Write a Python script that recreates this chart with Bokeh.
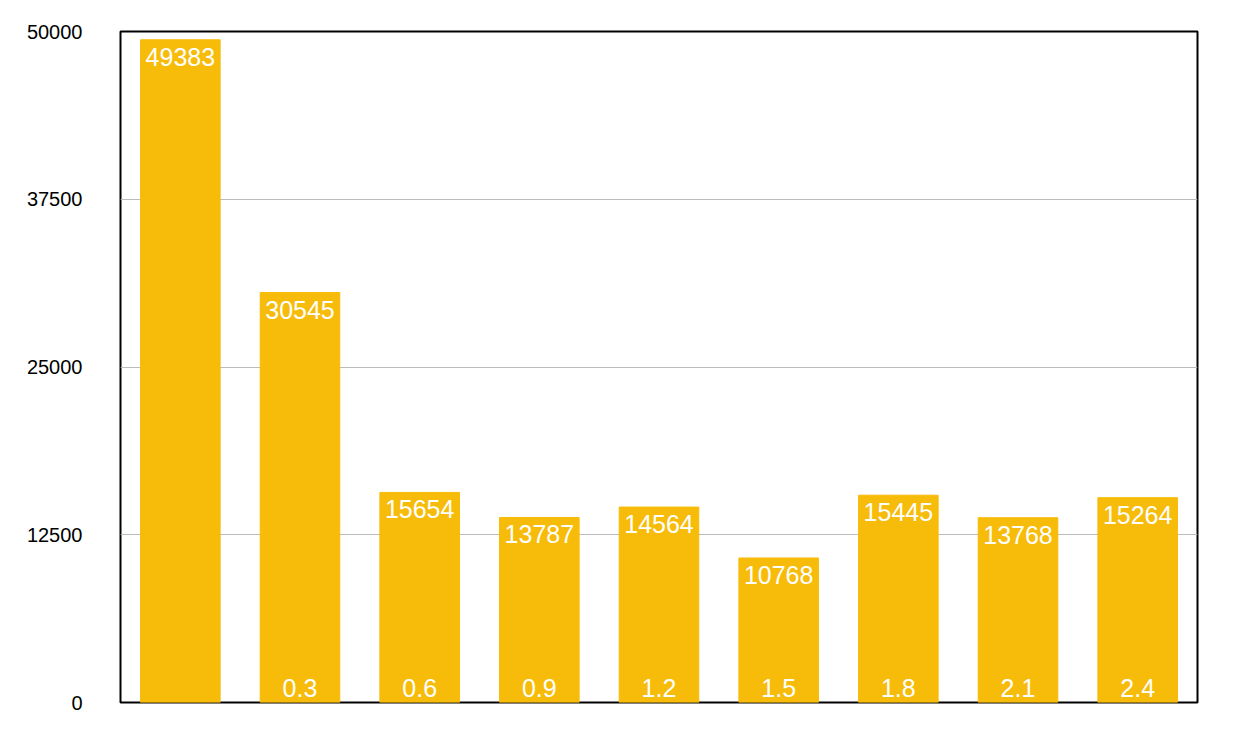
from bokeh.plotting import figure
from bokeh.models import ColumnDataSource, Range1d, FixedTicker
from bokeh.core.properties import value
from bokeh.embed import file_html
from bokeh.resources import INLINE

categories = ["", "0.3", "0.6", "0.9", "1.2", "1.5", "1.8", "2.1", "2.4"]
values = [49383, 30545, 15654, 13787, 14564, 10768, 15445, 13768, 15264]
yticks = [0, 12500, 25000, 37500, 50000]

src = ColumnDataSource(dict(x=list(range(len(values))), v=values,
                            vs=[str(v) for v in values], c=categories,
                            z=[0]*len(values)))

p = figure(width=1220, height=720, output_backend="svg", toolbar_location=None,
           x_range=Range1d(-0.5, len(values)-0.5), y_range=Range1d(0, 50000),
           min_border_left=120, min_border_right=23, min_border_top=31, min_border_bottom=18)
p.vbar(x="x", top="v", width=0.665, source=src, color="#F7BC09")
p.text(x="x", y="v", text="vs", source=src, text_color="white", text_align="center",
       text_baseline="top", y_offset=8, text_font_size="25px", text_font=value("Liberation Sans"))
p.text(x="x", y="z", text="c", source=src, text_color="white", text_align="center",
       text_baseline="bottom", y_offset=-6, text_font_size="25px", text_font=value("Liberation Sans"))
p.xaxis.visible = False
p.xgrid.visible = False
p.ygrid.grid_line_color = "#bbbbbb"
p.yaxis.ticker = FixedTicker(ticks=yticks)
p.yaxis.axis_line_color = None
p.yaxis.major_tick_line_color = None
p.yaxis.minor_tick_line_color = None
p.yaxis.major_label_standoff = 32
p.yaxis.major_label_text_font_size = "20px"
p.yaxis.major_label_text_color = "black"
p.yaxis.major_label_text_font = "Liberation Sans"
p.outline_line_color = "black"
p.outline_line_width = 2
p.outline_line_alpha = 1

open("out.html", "w").write(file_html(p, INLINE))
